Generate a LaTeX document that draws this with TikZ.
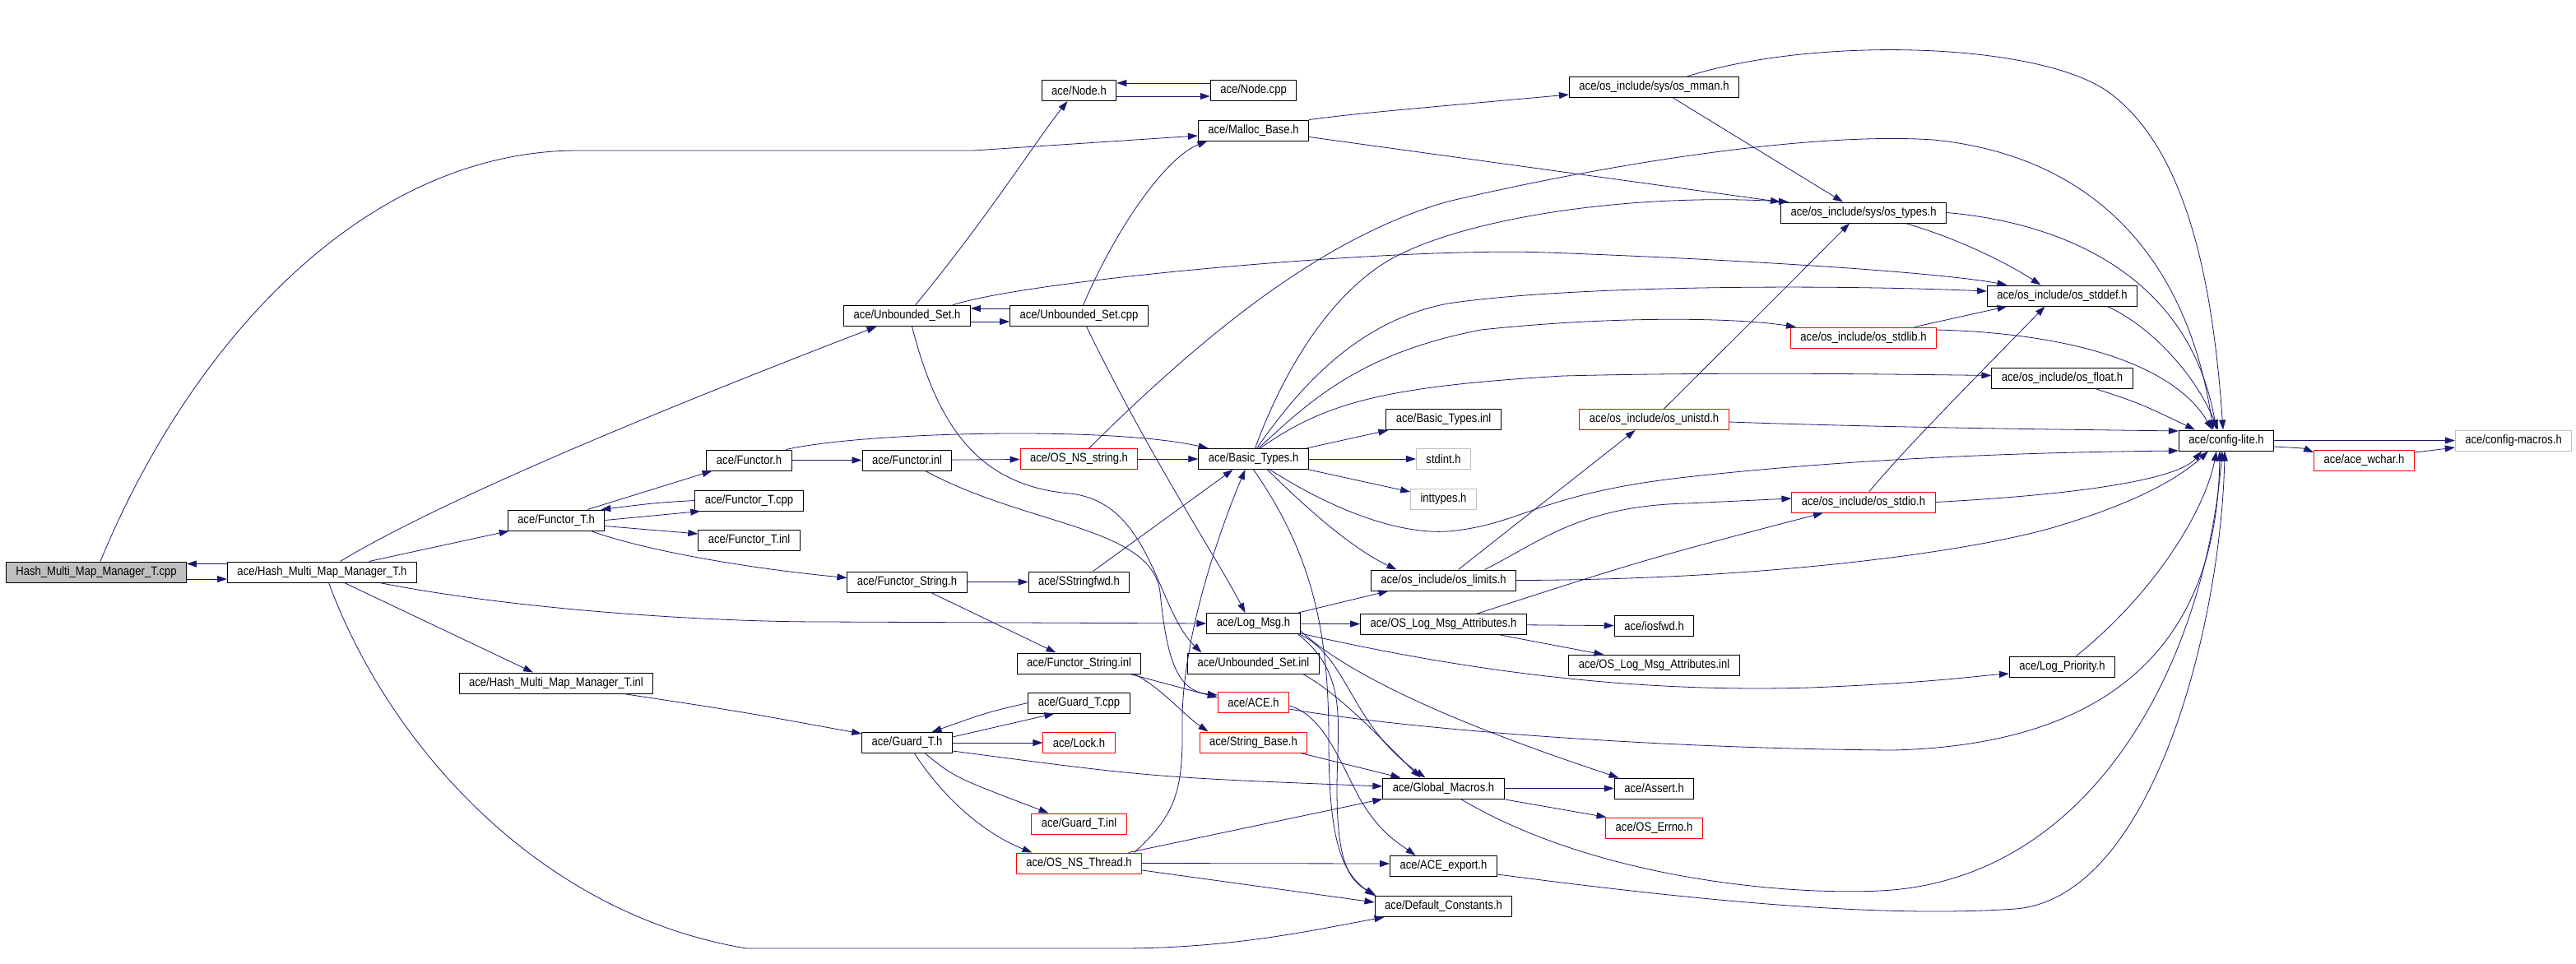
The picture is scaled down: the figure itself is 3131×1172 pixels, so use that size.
\documentclass[tikz,border=0pt]{standalone}
\usepackage{fontspec}
\setmainfont{Liberation Sans}
\newfontfamily\dotfont[FakeStretch=0.87]{Liberation Sans}
\usetikzlibrary{arrows.meta}
\definecolor{edgeblue}{RGB}{25,25,112}
\definecolor{boxgray}{RGB}{191,191,191}

\begin{document}
\begin{tikzpicture}[x=1pt,y=-1pt,
  file/.style={draw=black,line width=1pt,inner xsep=12pt,inner ysep=0pt,minimum height=25pt,font=\dotfont\fontsize{15}{15}\selectfont},
  trunc/.style={file,draw=red},
  ext/.style={file,draw=boxgray},
  root/.style={file,fill=boxgray},
  inc/.style={draw=edgeblue,line width=0.8pt,-{Triangle[length=12pt,width=8pt]}}]
\useasboundingbox (0,0) rectangle (3131,1172);

\node[root] (cpp) at (117,695.5) {Hash\_Multi\_Map\_Manager\_T.cpp};
\node[file] (hmmh) at (391.5,695.5) {ace/Hash\_Multi\_Map\_Manager\_T.h};
\node[file] (functorTh) at (676,632.5) {ace/Functor\_T.h};
\node[file] (hmminl) at (676,830.5) {ace/Hash\_Multi\_Map\_Manager\_T.inl};
\node[file] (functorh) at (910.5,559.5) {ace/Functor.h};
\node[file] (functorTcpp) at (910.5,608.5) {ace/Functor\_T.cpp};
\node[file] (functorTinl) at (910.5,657) {ace/Functor\_T.inl};
\node[file] (usetH) at (1102.5,384) {ace/Unbounded\_Set.h};
\node[file] (functorinl) at (1102.5,559.5) {ace/Functor.inl};
\node[file] (fstringh) at (1102.5,707.5) {ace/Functor\_String.h};
\node[file] (guardh) at (1102.5,903) {ace/Guard\_T.h};
\node[file] (nodeh) at (1311.5,110) {ace/Node.h};
\node[file] (usetcpp) at (1311.5,384) {ace/Unbounded\_Set.cpp};
\node[trunc] (nsstring) at (1311.5,558) {ace/OS\_NS\_string.h};
\node[file] (sstringfwd) at (1311.5,707.5) {ace/SStringfwd.h};
\node[file] (fstringinl) at (1311.5,806.5) {ace/Functor\_String.inl};
\node[file] (guardcpp) at (1311.5,854.5) {ace/Guard\_T.cpp};
\node[trunc] (lockh) at (1311.5,903) {ace/Lock.h};
\node[trunc] (guardinl) at (1311.5,1001.5) {ace/Guard\_T.inl};
\node[trunc] (nsthread) at (1311.5,1049.5) {ace/OS\_NS\_Thread.h};
\node[file] (nodecpp) at (1523.5,110) {ace/Node.cpp};
\node[file] (malloc) at (1523.5,158.5) {ace/Malloc\_Base.h};
\node[file] (basic) at (1523.5,558) {ace/Basic\_Types.h};
\node[file] (logmsg) at (1523.5,758) {ace/Log\_Msg.h};
\node[file] (usetinl) at (1523.5,806.5) {ace/Unbounded\_Set.inl};
\node[trunc] (aceh) at (1523.5,854) {ace/ACE.h};
\node[trunc] (stringbase) at (1523.5,902.5) {ace/String\_Base.h};
\node[file] (basicinl) at (1754.5,510) {ace/Basic\_Types.inl};
\node[ext] (stdint) at (1754.5,558) {stdint.h};
\node[ext] (inttypes) at (1754.5,606.5) {inttypes.h};
\node[file] (limits) at (1754.5,705.5) {ace/os\_include/os\_limits.h};
\node[file] (attrh) at (1754.5,759) {ace/OS\_Log\_Msg\_Attributes.h};
\node[file] (globalmacros) at (1754.5,958.5) {ace/Global\_Macros.h};
\node[file] (aceexport) at (1754.5,1053) {ace/ACE\_export.h};
\node[file] (defconst) at (1754.5,1102) {ace/Default\_Constants.h};
\node[file] (mman) at (2010.5,106) {ace/os\_include/sys/os\_mman.h};
\node[trunc] (unistd) at (2010.5,510) {ace/os\_include/os\_unistd.h};
\node[file] (iosfwd) at (2010.5,761) {ace/iosfwd.h};
\node[file] (attrinl) at (2010.5,809) {ace/OS\_Log\_Msg\_Attributes.inl};
\node[file] (assert) at (2010.5,958.5) {ace/Assert.h};
\node[trunc] (errno) at (2010.5,1006.5) {ace/OS\_Errno.h};
\node[file] (types) at (2265,258.5) {ace/os\_include/sys/os\_types.h};
\node[trunc] (stdlib) at (2265,410.5) {ace/os\_include/os\_stdlib.h};
\node[trunc] (stdio) at (2265,610.5) {ace/os\_include/os\_stdio.h};
\node[file] (stddef) at (2506.5,359.5) {ace/os\_include/os\_stddef.h};
\node[file] (float) at (2506.5,459.5) {ace/os\_include/os\_float.h};
\node[file] (logprio) at (2506.5,810.5) {ace/Log\_Priority.h};
\node[file] (configlite) at (2706,535.5) {ace/config-lite.h};
\node[trunc] (wchar) at (2873.5,560) {ace/ace\_wchar.h};
\node[ext] (configmacros) at (3055,535.5) {ace/config-macros.h};

\draw[inc] ([yshift=-8.5pt]cpp.east) -- ([yshift=-8.5pt]hmmh.west);
\draw[inc] ([yshift=10pt]hmmh.west) -- ([yshift=10pt]cpp.east);
\draw[inc] ([xshift=5pt]cpp.north) .. controls (230,420) and (440,185) .. (700,183) -- (1183,183) -- ([yshift=-6.5pt]malloc.west);

\draw[inc] ([xshift=22pt]hmmh.north) .. controls (550,600) and (850,480) .. ([xshift=-37pt]usetH.south);
\draw[inc] ([xshift=57pt]hmmh.north) -- ([xshift=2pt]functorTh.south west);
\draw[inc] ([xshift=70pt]hmmh.south) .. controls (620,740) and (850,756) .. (1000,756) -- (logmsg.west);
\draw[inc] ([xshift=27pt]hmmh.south) -- ([xshift=-28pt]hmminl.north);
\draw[inc] ([xshift=8pt]hmmh.south) .. controls (470,900) and (650,1110) .. (907,1153) -- (1361,1153) .. controls (1500,1153) and (1600,1130) .. ([xshift=12pt]defconst.south west);

\draw[inc] ([xshift=38pt]functorTh.north) -- ([xshift=-45pt]functorh.south);
\draw[inc] (functorTcpp.west) .. controls (800,611) .. ([xshift=-5pt]functorTh.north east);
\draw[inc] (functorTh.east) -- ([xshift=7pt]functorTcpp.south west);
\draw[inc] ([yshift=-7pt]functorTh.east) -- ([yshift=8pt]functorTinl.west);
\draw[inc] ([xshift=42pt]functorTh.south) .. controls (780,668) and (900,690) .. ([yshift=5pt]fstringh.west);

\draw[inc] (functorh) -- (functorinl);
\draw[inc] ([xshift=45pt]functorh.north) .. controls (1050,525) and (1350,518) .. ([xshift=-55pt]basic.north);
\draw[inc] (functorinl) -- (nsstring);
\draw[inc] ([xshift=22pt]functorinl.south) .. controls (1250,640) and (1400,640) .. (1410,720) .. controls (1418,800) and (1430,840) .. ([yshift=9pt]aceh.west);
\draw[inc] (nsstring) -- (basic);
\draw[inc] ([xshift=12pt]nsstring.north) .. controls (1450,420) and (1600,290) .. (1760,245) .. controls (1950,200) and (2200,160) .. (2350,170) .. controls (2550,190) and (2660,320) .. ([xshift=-16pt]configlite.north);

\draw[inc] ([xshift=6pt]usetH.south) .. controls (1140,520) and (1190,590) .. (1300,600) .. controls (1400,610) and (1405,740) .. ([xshift=-63pt]usetinl.north);
\draw[inc] ([yshift=-7pt]usetH.east) -- ([yshift=-7pt]usetcpp.west);
\draw[inc] ([yshift=9pt]usetcpp.west) -- ([yshift=9pt]usetH.east);
\draw[inc] ([xshift=10pt]usetH.north) .. controls (1200,265) and (1260,170) .. ([xshift=-14pt]nodeh.south);
\draw[inc] ([xshift=55pt]usetH.north) .. controls (1250,340) and (1700,300) .. (1880,307) .. controls (2100,315) and (2350,330) .. ([xshift=-67pt]stddef.north);
\draw[inc] ([xshift=5pt]usetcpp.north) .. controls (1361,268) and (1420,190) .. ([xshift=-56pt]malloc.south);
\draw[inc] ([xshift=9pt]usetcpp.south) .. controls (1400,560) and (1480,680) .. ([xshift=-10pt]logmsg.north);

\draw[inc] ([yshift=-7pt]nodeh.east) -- ([yshift=-7pt]nodecpp.west);
\draw[inc] ([yshift=9pt]nodecpp.west) -- ([yshift=9pt]nodeh.east);

\draw[inc] (malloc.north east) .. controls (1651,138) .. ([yshift=-9pt]mman.west);
\draw[inc] ([yshift=-8pt]malloc.east) -- (types.north west);
\draw[inc] ([xshift=23pt]mman.south) -- ([xshift=-25pt]types.north);
\draw[inc] ([xshift=40pt]mman.north) .. controls (2200,45) and (2470,50) .. (2560,110) .. controls (2660,180) and (2690,350) .. ([xshift=-4pt]configlite.north);
\draw[inc] (types.east) .. controls (2500,270) and (2660,330) .. ([xshift=-12pt]configlite.north);
\draw[inc] ([xshift=51pt]types.south) .. controls (2380,290) and (2440,320) .. ([xshift=-26pt]stddef.north);
\draw[inc] ([xshift=55pt]stddef.south) .. controls (2620,400) and (2670,460) .. ([xshift=-10pt]configlite.north);
\draw[inc] ([xshift=62pt]stdlib.north) -- ([xshift=-67pt]stddef.south);
\draw[inc] ([yshift=9.5pt]stdlib.east) .. controls (2510,405) and (2640,440) .. ([xshift=-17pt]configlite.north);
\draw[inc] ([xshift=7pt]stdio.north) .. controls (2320,540) and (2420,440) .. ([xshift=-21pt]stddef.south);
\draw[inc] (stdio.east) .. controls (2550,600) and (2650,580) .. ([xshift=-30pt]configlite.south);
\draw[inc] ([xshift=12pt]unistd.north) .. controls (2150,370) .. ([xshift=-17pt]types.south);
\draw[inc] ([yshift=-3pt]unistd.east) .. controls (2300,520) and (2500,522) .. ([yshift=11.5pt]configlite.west);
\draw[inc] ([xshift=40pt]float.south) .. controls (2600,490) .. ([xshift=-38pt]configlite.north);

\draw[inc] ([xshift=18pt]limits.north) -- ([xshift=-23pt]unistd.south);
\draw[inc] ([xshift=50pt]limits.north) .. controls (1870,660) and (1920,615) .. (2050,612) -- ([yshift=4.5pt]stdio.west);
\draw[inc] (limits.east) .. controls (2150,705) and (2400,670) .. (2500,640) .. controls (2600,610) and (2650,580) .. ([xshift=-22pt]configlite.south);
\draw[inc] ([xshift=41pt]attrh.north) .. controls (2000,680) .. ([xshift=-49pt]stdio.south);
\draw[inc] (attrh) -- (iosfwd);
\draw[inc] ([xshift=69pt]attrh.south) -- ([xshift=-61pt]attrinl.north);

\draw[inc] (globalmacros) -- (assert);
\draw[inc] ([xshift=72pt]globalmacros.south) -- ([xshift=-58pt]errno.north);
\draw[inc] ([xshift=21pt]globalmacros.south) .. controls (1950,1075) and (2200,1090) .. (2300,1082) .. controls (2550,1060) and (2680,800) .. ([xshift=-5pt]configlite.south);
\draw[inc] ([yshift=-10pt]aceexport.east) .. controls (2100,1100) and (2300,1115) .. (2450,1105) .. controls (2620,1090) and (2700,750) .. ([xshift=-2pt]configlite.south);
\draw[inc] ([xshift=17pt]logprio.north) .. controls (2620,720) and (2680,620) .. ([xshift=-12pt]configlite.south);
\draw[inc] ([yshift=-8pt]aceh.east) .. controls (1700,885) and (2000,910) .. (2300,912) .. controls (2600,905) and (2695,750) .. ([xshift=-8pt]configlite.south);
\draw[inc] ([yshift=-4pt]aceh.east) .. controls (1610,870) and (1630,930) .. (1655,975) .. controls (1680,1015) and (1700,1025) .. ([xshift=-34pt]aceexport.north);

\draw[inc] (configlite) -- (configmacros);
\draw[inc] ([yshift=-7.5pt]configlite.east) .. controls (2800,545) .. ([yshift=10pt]wchar.west);
\draw[inc] ([yshift=10pt]wchar.east) .. controls (2960,547) .. ([yshift=-8.5pt]configmacros.west);

\draw[inc] ([xshift=2pt]basic.north) .. controls (1560,450) and (1620,350) .. (1700,310) .. controls (1800,260) and (2000,235) .. ([xshift=10pt]types.north west);
\draw[inc] ([xshift=4pt]basic.north) .. controls (1580,470) and (1650,390) .. (1760,369) .. controls (1900,348) and (2200,345) .. ([yshift=5.5pt]stddef.west);
\draw[inc] ([xshift=6pt]basic.north) .. controls (1590,490) and (1650,430) .. (1800,401) .. controls (1950,385) and (2100,385) .. ([xshift=7pt]stdlib.north west);
\draw[inc] ([xshift=8pt]basic.north) .. controls (1610,490) and (1680,470) .. (1900,457) .. controls (2100,452) and (2300,455) .. ([yshift=3pt]float.west);
\draw[inc] ([xshift=-3pt]basic.north east) -- ([xshift=3pt]basicinl.south west);
\draw[inc] (basic) -- (stdint);
\draw[inc] (basic.south east) -- ([yshift=8.5pt]inttypes.west);
\draw[inc] ([xshift=17pt]basic.south) .. controls (1600,630) and (1650,670) .. ([xshift=-57pt]limits.north);
\draw[inc] ([xshift=20pt]basic.south) .. controls (1620,620) and (1700,650) .. (1760,646) .. controls (1850,638) and (1870,600) .. (2050,580) .. controls (2250,558) and (2450,550) .. ([yshift=-12.5pt]configlite.west);
\draw[inc] (basic.south) .. controls (1600,680) and (1615,780) .. (1615,900) .. controls (1615,1020) and (1630,1060) .. (defconst.north west);
\draw[inc] ([xshift=17pt]sstringfwd.north) -- ([xshift=-25pt]basic.south);

\draw[inc] ([xshift=67pt]nsthread.north) .. controls (1430,990) and (1438,960) .. (1437,880) .. controls (1436,780) and (1480,650) .. ([xshift=-10pt]basic.south);
\draw[inc] ([xshift=60pt]nsthread.north) -- (globalmacros.south west);
\draw[inc] (nsthread.east) -- ([yshift=3pt]aceexport.west);
\draw[inc] ([yshift=-8.5pt]nsthread.east) -- ([yshift=5pt]defconst.west);

\draw[inc] ([yshift=-10pt]guardh.east) .. controls (1400,945) .. ([yshift=2.5pt]globalmacros.west);
\draw[inc] ([yshift=7pt]guardh.east) -- ([xshift=-30pt]guardcpp.south);
\draw[inc] (guardcpp.west) .. controls (1200,866) .. ([xshift=30pt]guardh.north);
\draw[inc] (guardh) -- (lockh);
\draw[inc] ([xshift=22pt]guardh.south) .. controls (1160,945) .. ([xshift=-37pt]guardinl.north);
\draw[inc] ([xshift=9pt]guardh.south) .. controls (1150,975) and (1200,1015) .. ([xshift=-57pt]nsthread.north);
\draw[inc] ([xshift=82pt]hmminl.south) .. controls (900,865) .. ([yshift=11pt]guardh.west);

\draw[inc] (fstringh) -- (sstringfwd);
\draw[inc] ([xshift=29pt]fstringh.south) -- ([xshift=-28pt]fstringinl.north);
\draw[inc] ([xshift=62pt]fstringinl.south) -- ([yshift=6pt]aceh.west);
\draw[inc] ([xshift=67pt]fstringinl.south) .. controls (1410,835) and (1440,870) .. ([xshift=-55pt]stringbase.north);
\draw[inc] ([xshift=57pt]stringbase.south) -- ([xshift=-52pt]globalmacros.north);
\draw[inc] ([xshift=60pt]usetinl.south) .. controls (1630,845) and (1680,900) .. ([xshift=-28pt]globalmacros.north);

\draw[inc] (logmsg) -- (attrh);
\draw[inc] ([xshift=-3pt]logmsg.north east) -- ([xshift=-67pt]limits.south);
\draw[inc] ([xshift=56pt]logmsg.south) .. controls (1640,800) and (1640,880) .. ([xshift=-22pt]globalmacros.north);
\draw[inc] ([xshift=54pt]logmsg.south) .. controls (1640,820) and (1625,880) .. (1625,960) .. controls (1625,1050) and (1640,1070) .. ([xshift=2pt]defconst.north west);
\draw[inc] ([yshift=-9pt]logmsg.east) .. controls (1650,830) and (1800,890) .. ([xshift=-43pt]assert.north);
\draw[inc] ([yshift=-12pt]logmsg.east) .. controls (1800,820) and (2000,842) .. (2200,836) .. controls (2350,830) and (2400,822) .. ([yshift=-8.5pt]logprio.west);
\end{tikzpicture}
\end{document}
